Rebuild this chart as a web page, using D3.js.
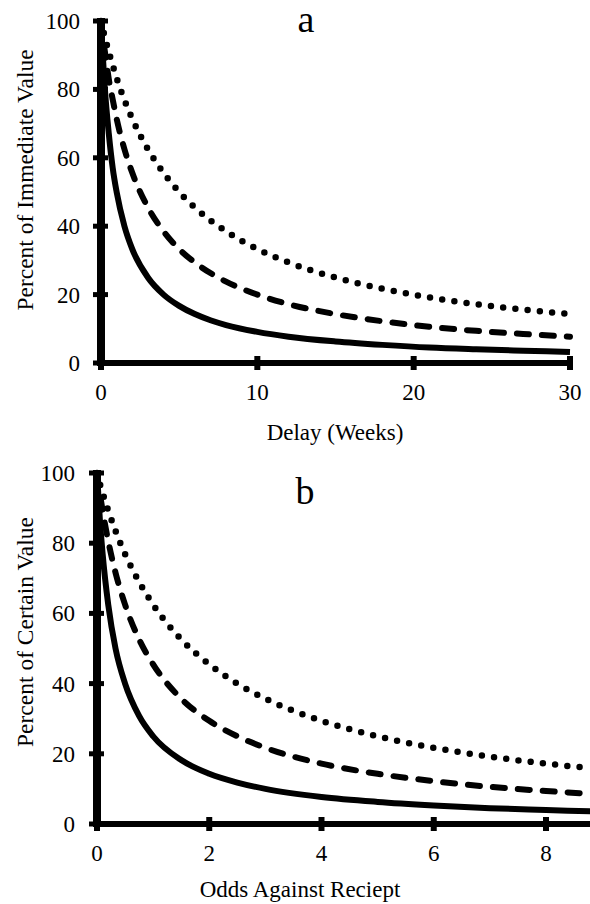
<!DOCTYPE html>
<html>
<head>
<meta charset="utf-8">
<script src="https://cdn.jsdelivr.net/npm/d3@7"></script>
<style>
  body { margin: 0; background: #fff; }
</style>
</head>
<body>
<div id="chart"></div>
<script>
// panel a: delay discounting
var delayX = [0, 0.1, 0.25, 0.5, 0.75, 1, 1.5, 2, 3, 4, 5, 6, 7, 8, 10, 12, 15, 18, 21, 24, 27, 30];
var delaySolid  = [100, 91, 80, 67, 57, 50, 40, 33.3, 25, 20, 16.7, 14.3, 12.5, 11.1, 9.1, 7.7, 6.3, 5.3, 4.5, 4, 3.6, 3.2];
var delayDashed = [100, 96, 91, 83, 77, 71.4, 62.5, 55.6, 45.5, 38.5, 33.3, 29.4, 26.3, 23.8, 20, 17.2, 14.3, 12.2, 10.6, 9.4, 8.5, 7.7];
var delayDotted = [100, 98, 95.2, 90.9, 87, 83.3, 76.9, 71.4, 62.5, 55.6, 50, 45.5, 41.7, 38.5, 33.3, 29.4, 25, 21.7, 19.2, 17.2, 15.6, 14.3];

// panel b: probability discounting
var oddsX = [0, 0.05, 0.1, 0.2, 0.33, 0.5, 0.75, 1, 1.5, 2, 2.5, 3, 4, 5, 6, 7, 8, 8.8];
var oddsSolid  = [100, 87, 77, 62.5, 50, 40, 30.8, 25, 18.2, 14.3, 11.8, 10, 7.7, 6.3, 5.3, 4.5, 4, 3.6];
var oddsDashed = [100, 94.3, 89.3, 80.6, 71.6, 62.5, 52.6, 45.5, 35.7, 29.4, 25, 21.7, 17.2, 14.3, 12.2, 10.6, 9.4, 8.6];
var oddsDotted = [100, 97, 94.3, 89.3, 83.5, 76.9, 69, 62.5, 52.6, 45.5, 40, 35.7, 29.4, 25, 21.7, 19.2, 17.2, 15.9];

var yTicks = [0, 20, 40, 60, 80, 100];
var delayTicks = [0, 10, 20, 30];
var oddsTicks = [0, 2, 4, 6, 8];

var serif = "'Liberation Serif', 'Times New Roman', Tinos, 'DejaVu Serif', serif";

var svg = d3.select("#chart").append("svg")
	.attr("width", 590).attr("height", 904)
	.attr("font-family", serif);

var styles = [
	{ dash: null, cap: "butt" },
	{ dash: "12 13", cap: "round" },
	{ dash: "0 12.3", cap: "round" }
];

function label(g) {
	return g.append("text").attr("font-family", serif).attr("fill", "#000");
}

function panel(o) {
	var x = d3.scaleLinear().domain(o.xDomain).range(o.xRange);
	var y = d3.scaleLinear().domain([0, 100]).range(o.yRange);
	var g = svg.append("g");

	var line = d3.line()
		.x(function(d) { return x(d[0]); })
		.y(function(d) { return y(d[1]); })
		.curve(d3.curveMonotoneX);

	// axes
	g.append("line").attr("x1", x(0)).attr("x2", x(0))
		.attr("y1", y(100) - 3).attr("y2", y(0) + 3)
		.attr("stroke", "#000").attr("stroke-width", 8);
	g.append("line").attr("x1", x(0) - 4).attr("x2", o.xAxisEnd)
		.attr("y1", y(0)).attr("y2", y(0))
		.attr("stroke", "#000").attr("stroke-width", 6);

	g.selectAll(".yt").data(yTicks).enter().append("line")
		.attr("x1", x(0) - 8).attr("x2", x(0) + 7)
		.attr("y1", function(d) { return y(d); }).attr("y2", function(d) { return y(d); })
		.attr("stroke", "#000").attr("stroke-width", 5);
	g.selectAll(".xt").data(o.xTicks).enter().append("line")
		.attr("x1", function(d) { return x(d); }).attr("x2", function(d) { return x(d); })
		.attr("y1", y(0) - 7).attr("y2", y(0) + 7)
		.attr("stroke", "#000").attr("stroke-width", 6);

	g.selectAll(".yl").data(yTicks).enter().append("text")
		.attr("font-family", serif)
		.attr("x", o.yLabelX).attr("y", function(d) { return y(d) + 8; })
		.attr("text-anchor", "end").attr("font-size", 23)
		.text(function(d) { return d; });
	g.selectAll(".xl").data(o.xTicks).enter().append("text")
		.attr("font-family", serif)
		.attr("x", function(d) { return x(d); }).attr("y", y(0) + 37)
		.attr("text-anchor", "middle").attr("font-size", 23)
		.text(function(d) { return d; });

	// curves
	o.series.forEach(function(s, i) {
		var pts = o.xs.map(function(v, j) { return [v, s[j]]; });
		g.append("path").datum(pts)
			.attr("d", line)
			.attr("fill", "none").attr("stroke", "#000")
			.attr("stroke-width", i == 2 ? 6.5 : 6)
			.attr("stroke-linecap", styles[i].cap)
			.attr("stroke-dasharray", styles[i].dash);
	});

	label(g).attr("x", o.xTitleX).attr("y", o.xTitleY)
		.attr("text-anchor", "middle").attr("font-size", 23)
		.text(o.xTitle);
	label(g)
		.attr("transform", "translate(33," + o.yTitleY + ") rotate(-90)")
		.attr("text-anchor", "middle").attr("font-size", 23.5)
		.text(o.yTitle);
	label(g).attr("x", o.letterX).attr("y", o.letterY)
		.attr("text-anchor", "middle").attr("font-size", 38)
		.text(o.letter);
}

panel({
	xs: delayX, series: [delaySolid, delayDashed, delayDotted],
	xDomain: [0, 30], xRange: [101, 570], yRange: [363, 21],
	xTicks: delayTicks, xAxisEnd: 573, yLabelX: 80,
	xTitle: "Delay (Weeks)", xTitleX: 335, xTitleY: 440,
	yTitle: "Percent of Immediate Value", yTitleY: 180,
	letter: "a", letterX: 306, letterY: 32
});

panel({
	xs: oddsX, series: [oddsSolid, oddsDashed, oddsDotted],
	xDomain: [0, 8], xRange: [97, 546], yRange: [824, 473],
	xTicks: oddsTicks, xAxisEnd: 590, yLabelX: 75,
	xTitle: "Odds Against Reciept", xTitleX: 300, xTitleY: 897,
	yTitle: "Percent of Certain Value", yTitleY: 632,
	letter: "b", letterX: 305, letterY: 504
});
</script>
</body>
</html>
